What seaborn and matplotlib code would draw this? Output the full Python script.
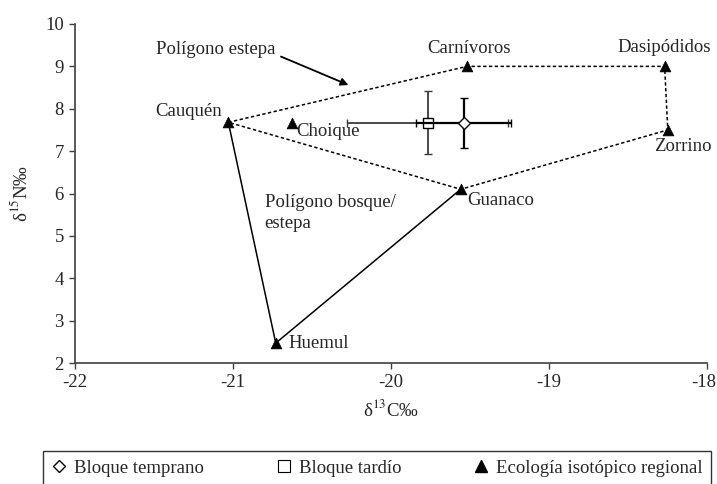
import numpy as np
import pandas as pd
import matplotlib
matplotlib.use('Agg')
import matplotlib.pyplot as plt
import matplotlib.transforms as mtransforms
from matplotlib.lines import Line2D
import seaborn as sns

# Regional isotopic ecology (means)
eco_names = ['Cauquén', 'Choique', 'Carnívoros', 'Dasipódidos', 'Zorrino', 'Guanaco', 'Huemul']
eco_d13c = [-21.03, -20.63, -19.52, -18.27, -18.25, -19.56, -20.73]
eco_d15n = [7.68, 7.66, 9.0, 9.0, 7.5, 6.1, 2.47]

# Polygon vertex orders
estepa_order = ['Cauquén', 'Carnívoros', 'Dasipódidos', 'Zorrino', 'Guanaco', 'Cauquén']
bosque_order = ['Cauquén', 'Huemul', 'Guanaco']

# Archaeological blocks (mean +/- sd)
bloque_names = ['Bloque temprano', 'Bloque tardío']
bloque_d13c = [-19.54, -19.77]
bloque_d15n = [7.67, 7.67]
bloque_d13c_sd = [0.30, 0.51]
bloque_d15n_sd = [0.59, 0.74]

df = pd.DataFrame({'name': eco_names, 'd13c': eco_d13c, 'd15n': eco_d15n}).set_index('name')
estepa = df.loc[estepa_order].reset_index()
bosque = df.loc[bosque_order].reset_index()

FS = 13.5

sns.set_style('ticks')
plt.rcParams['font.family'] = ['Liberation Serif', 'DejaVu Serif']
plt.rcParams['mathtext.fontset'] = 'stix'
plt.rcParams['font.size'] = FS

fig = plt.figure(figsize=(7.17, 4.84), dpi=100)
ax = fig.add_axes([75 / 717, 1 - 363 / 484, (707.3 - 75) / 717, (363 - 24) / 484])

# polygons
sns.lineplot(data=estepa, x='d13c', y='d15n', sort=False, estimator=None, ax=ax,
             color='black', linewidth=1.1, linestyle=(0, (2.2, 1.6)))
sns.lineplot(data=bosque, x='d13c', y='d15n', sort=False, estimator=None, ax=ax,
             color='black', linewidth=1.1)

# triangles
sns.scatterplot(x=eco_d13c, y=eco_d15n, marker='^', s=60, color='black',
                edgecolor='black', linewidth=0.5, ax=ax, zorder=5)

# error bars
ax.errorbar(bloque_d13c[1], bloque_d15n[1], xerr=bloque_d13c_sd[1], yerr=bloque_d15n_sd[1],
            fmt='s', ms=7, mfc='white', mec='black', mew=1.0, ecolor='#3a3a3a',
            elinewidth=1.3, capsize=3, capthick=1.1, zorder=6)
ax.errorbar(bloque_d13c[0], bloque_d15n[0], xerr=bloque_d13c_sd[0], yerr=bloque_d15n_sd[0],
            fmt='D', ms=6, mfc='white', mec='black', mew=1.0, ecolor='black',
            elinewidth=1.6, capsize=3, capthick=1.1, zorder=7)

# point labels
offsets = {
    'Cauquén': (-6, 11, 'right'),
    'Choique': (5, -8, 'left'),
    'Carnívoros': (2, 18, 'center'),
    'Dasipódidos': (0, 19, 'center'),
    'Zorrino': (15, -17, 'center'),
    'Guanaco': (7, -11, 'left'),
    'Huemul': (13, 0, 'left'),
}
for name, x, y in zip(eco_names, eco_d13c, eco_d15n):
    dx, dy, ha = offsets[name]
    ax.annotate(name, (x, y), xytext=(dx, dy), textcoords='offset pixels',
                ha=ha, va='center', fontsize=FS)

ax.annotate('Polígono estepa', xy=(-20.27, 8.56), xytext=(-21.49, 9.39),
            ha='left', va='center', fontsize=FS,
            arrowprops=dict(arrowstyle='-|>', color='black', lw=1.3,
                            mutation_scale=11, relpos=(1.0, 0.25),
                            shrinkA=2, shrinkB=0))
ax.text(-20.80, 5.54, 'Polígono bosque/\nestepa', ha='left', va='center',
        fontsize=FS, linespacing=1.3)

ax.set_xlim(-22, -18)
ax.set_ylim(2, 10)
ax.set_xticks([-22, -21, -20, -19, -18])
ax.set_yticks(range(2, 11))
ax.set_xticklabels(['-22', '-21', '-20', '-19', '-18'])
ax.set_xlabel('δ$^{13}$C‰', fontsize=FS, labelpad=6)
ax.set_ylabel('δ$^{15}$N‰', fontsize=FS, labelpad=10)
ax.tick_params(length=4, width=1, color='#404040', labelsize=FS, pad=4)
sns.despine(ax=ax)
for sp in ['left', 'bottom']:
    ax.spines[sp].set_color('#404040')
    ax.spines[sp].set_linewidth(1.2)

# keep the last x tick label inside the figure
last = ax.get_xticklabels()[-1]
last.set_transform(last.get_transform() + mtransforms.ScaledTranslation(-4 / 100, 0, fig.dpi_scale_trans))

handles = [
    Line2D([], [], marker='D', ls='none', ms=6, mfc='white', mec='black', mew=1.0),
    Line2D([], [], marker='s', ls='none', ms=8, mfc='white', mec='black', mew=0.8),
    Line2D([], [], marker='^', ls='none', ms=8, mfc='black', mec='black'),
]
leg = fig.legend(handles, ['Bloque temprano', 'Bloque tardío', 'Ecología isotópico regional'],
                 loc='upper left', bbox_to_anchor=(43 / 717, -0.1, (711 - 43) / 717, 0.1 + 33 / 484),
                 mode='expand', ncol=3, frameon=True, fancybox=False, borderaxespad=0,
                 handlelength=0.8, handletextpad=0.4, fontsize=FS, borderpad=0.45)
leg.get_frame().set_edgecolor('black')
leg.get_frame().set_linewidth(1.0)

fig.savefig('out.png', dpi=100)
